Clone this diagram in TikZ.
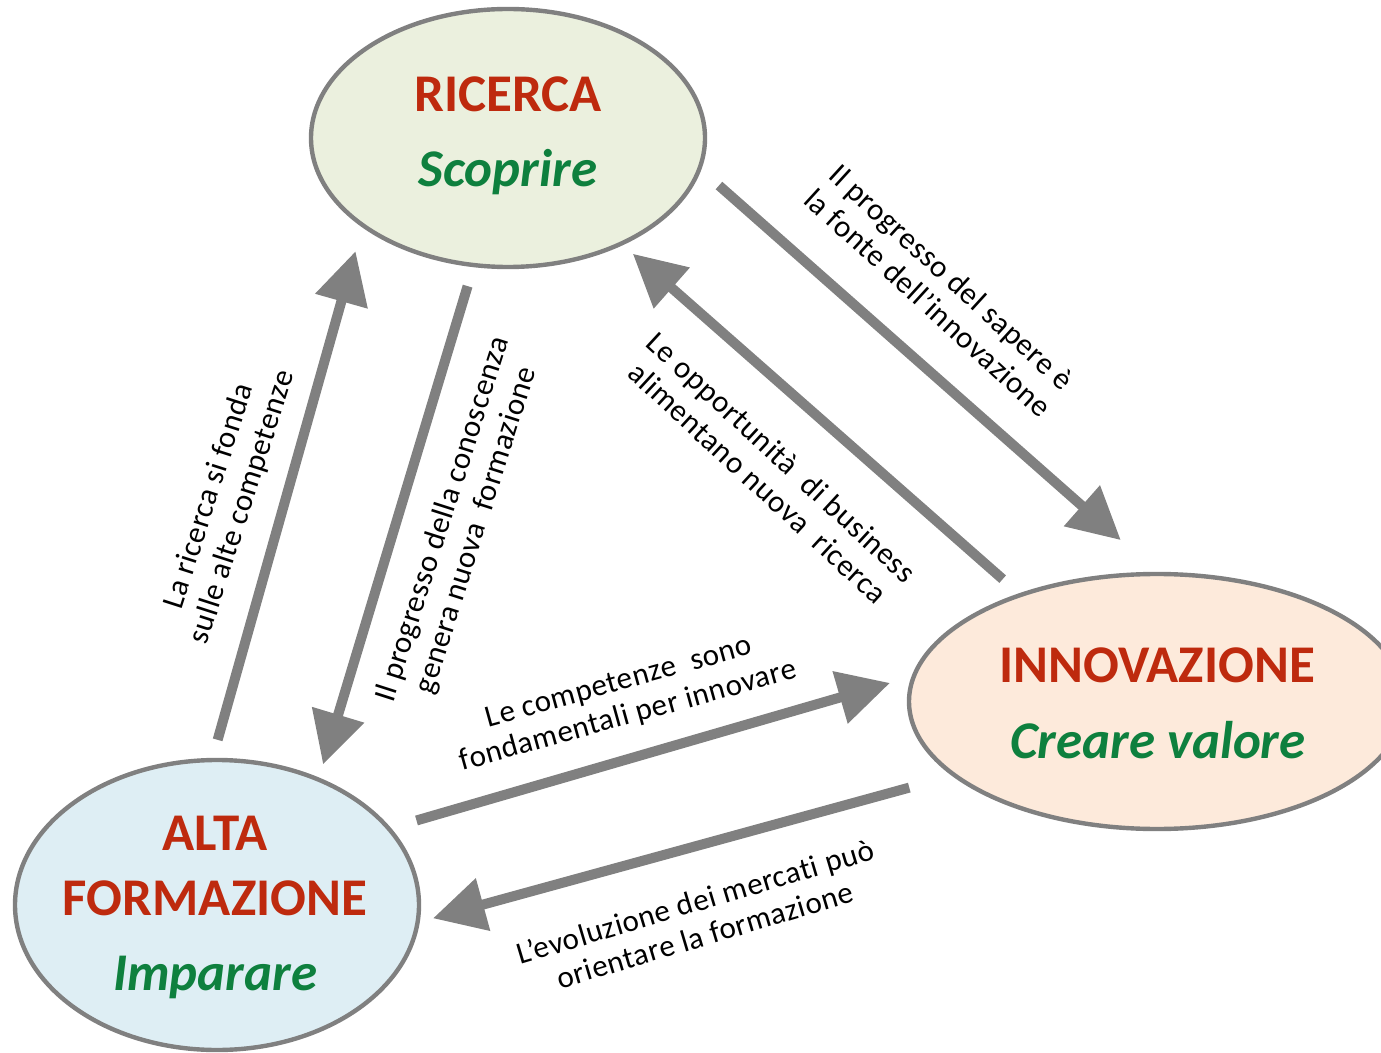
\documentclass[tikz,border=0pt]{standalone}
\usepackage{fontspec}
\setmainfont{Carlito}
\newfontfamily\lblfont[LetterSpace=2,Ligatures={NoCommon}]{Carlito}
\usetikzlibrary{arrows.meta,shapes.geometric}
\definecolor{tred}{RGB}{190,42,14}
\definecolor{tgreen}{RGB}{14,128,62}
\definecolor{lgray}{RGB}{128,128,128}
\definecolor{ricfill}{RGB}{235,240,222}
\definecolor{innfill}{RGB}{253,234,219}
\definecolor{altafill}{RGB}{222,238,244}
\tikzset{
  bubble/.style={ellipse, draw=lgray, line width=2.2pt, inner sep=0pt, outer sep=0pt},
  ttl/.style={anchor=base, font=\fontsize{26.5}{30}\selectfont\bfseries, text=tred, inner sep=0pt},
  sub/.style={anchor=base, font=\fontsize{26.5}{30}\selectfont\bfseries\itshape, text=tgreen, inner sep=0pt},
  conn/.style={draw=lgray, line width=5pt, -{Triangle[length=26pt,width=26pt]}},
  lbl/.style={align=center, font=\lblfont\fontsize{15.5}{17.5}\selectfont, inner sep=0pt}
}
\begin{document}
\begin{tikzpicture}[x=0.5pt,y=-0.5pt]
\useasboundingbox (0,0) rectangle (1381,1053);
% ellipses
\node[bubble, fill=ricfill, minimum width=197pt, minimum height=129pt] (ric) at (508,138) {};
\node[bubble, fill=innfill, minimum width=248pt, minimum height=127.5pt] (inn) at (1157,701.5) {};
\node[bubble, fill=altafill, minimum width=202pt, minimum height=145pt] (alta) at (217,905) {};
% titles
\node[ttl] (ricT) at (508,112) {RICERCA};
\node[sub] (ricS) at (508,187) {Scoprire};
\node[ttl] (innT) at (1157,682) {INNOVAZIONE};
\node[sub] (innS) at (1158,758) {Creare valore};
\node[ttl] (altaT1) at (215,850) {ALTA};
\node[ttl] (altaT2) at (215,915) {FORMAZIONE};
\node[sub] (altaS) at (215,990) {Imparare};
% connectors
\draw[conn, shorten <=13pt, shorten >=25.6pt] (ric.-9.8) -- (inn.89.3);
\draw[conn, shorten <=12pt, shorten >=7.7pt] (inn.142.8) -- (ric.-43.3);
\draw[conn, shorten <=11pt, shorten >=7.9pt] (ric.-105.7) -- (alta.51.4);
\draw[conn, shorten <=10.5pt, shorten >=13.5pt] (alta.92.7) -- (ric.-149.1);
\draw[conn, shorten <=14.5pt, shorten >=12.5pt] (alta.24.2) -- (inn.174.0);
\draw[conn, shorten <=23.5pt, shorten >=8pt] (inn.-160.3) -- (alta.-5.5);
% labels
\node[lbl, rotate=-42.4] (l1) at (940,290) {Il progresso del sapere è\\la fonte dell’innovazione};
\node[lbl, rotate=-42.7] (l2) at (770,470) {Le opportunità\ \ di business\\alimentano nuova\ \ ricerca};
\node[lbl, rotate=72.3] (l3) at (460,525) {Il progresso della conoscenza\\genera nuova\ \ formazione};
\node[lbl, rotate=72.2] (l4) at (226,502) {La ricerca si fonda\\sulle alte competenze};
\node[lbl, rotate=15.5] (l5) at (624,700) {Le competenze\ \ sono\\fondamentali per innovare};
\node[lbl, rotate=16.6] (l6) at (700,918) {L’evoluzione dei mercati può\\orientare la formazione};
\end{tikzpicture}
\end{document}
